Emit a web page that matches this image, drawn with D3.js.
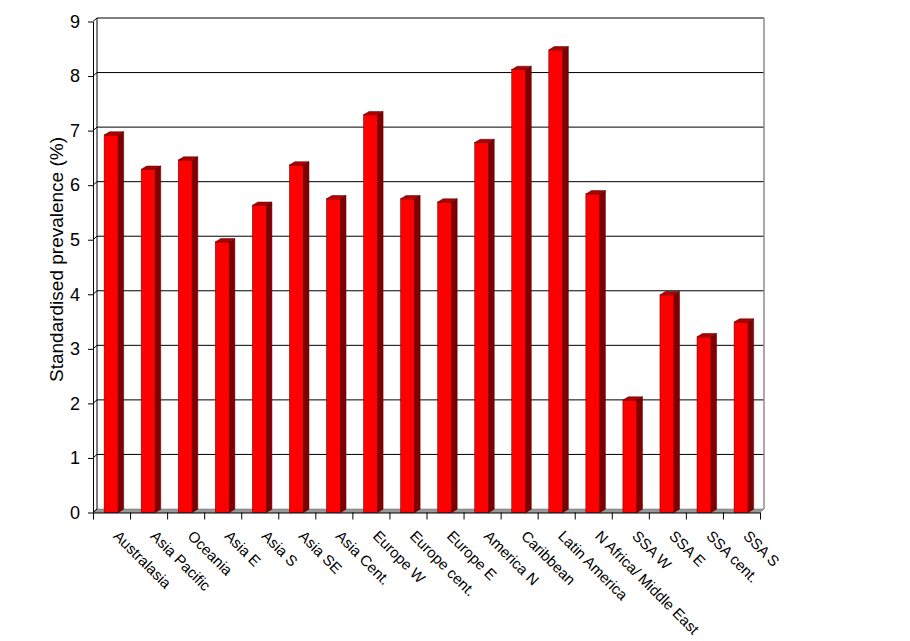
<!DOCTYPE html>
<meta charset="utf-8">
<head>
    <title>Standardised prevalence by region</title>
    <script src="https://d3js.org/d3.v7.min.js"></script>
    <style>
    body { margin: 0; background: #fff; }
    text { font-family: Arial, "Liberation Sans", sans-serif; fill: #000; }
    .domain, .tick line { stroke: #000; }
    </style>
</head>
<body>
<script>

// data
var regions = ["Australasia", "Asia Pacific", "Oceania", "Asia E", "Asia S", "Asia SE",
    "Asia Cent.", "Europe W", "Europe cent.", "Europe E", "America N", "Caribbean",
    "Latin America", "N Africa/ Middle East", "SSA W", "SSA E", "SSA cent.", "SSA S"];
var prevalence = [6.92, 6.29, 6.46, 4.96, 5.63, 6.37, 5.75, 7.29, 5.75, 5.69, 6.78, 8.12,
    8.48, 5.84, 2.06, 3.99, 3.22, 3.49];
var yTicks = [0, 1, 2, 3, 4, 5, 6, 7, 8, 9];

// plot geometry (front plane)
var width = 910, height = 641;
var plotLeft = 93, plotRight = 760, plotBottom = 512.5, plotTop = 21.5;
var dx = 4, dy = -3.5;          // back wall offset
var bdx = 5.5, bdy = -3.3;      // bar depth

var svg = d3.select("body").append("svg")
    .attr("width", width)
    .attr("height", height);

var y = d3.scaleLinear().domain([0, 9]).range([plotBottom, plotTop]);
var x = d3.scaleBand().domain(regions).range([plotLeft, plotRight]).padding(0);
var xEdge = d3.scaleLinear().domain([0, regions.length]).range([plotLeft, plotRight]);

// back wall gridlines
svg.append("g").selectAll("line")
    .data(yTicks.filter(function(d) { return d > 0; }))
  .enter().append("line")
    .attr("x1", plotLeft + dx).attr("x2", plotRight + dx)
    .attr("y1", function(d) { return y(d) + dy; })
    .attr("y2", function(d) { return y(d) + dy; })
    .attr("stroke", "#000").attr("stroke-width", 1);

// back wall left and right edges
svg.append("line")
    .attr("x1", plotLeft + dx).attr("x2", plotLeft + dx)
    .attr("y1", y(9) + dy).attr("y2", y(0) + dy)
    .attr("stroke", "#000");
svg.append("line")
    .attr("x1", plotRight + dx).attr("x2", plotRight + dx)
    .attr("y1", y(9) + dy).attr("y2", y(0) + dy)
    .attr("stroke", "#8c8c8c").attr("stroke-width", 1.5);

// floor
svg.append("polygon")
    .attr("points", [[plotLeft, y(0)], [plotLeft + dx, y(0) + dy], [plotRight + dx, y(0) + dy], [plotRight, y(0)]].join(" "))
    .attr("fill", "#999").attr("stroke", "#666").attr("stroke-width", 0.5);

// connectors from axis ticks to the wall
svg.append("g").selectAll("line")
    .data(yTicks)
  .enter().append("line")
    .attr("x1", plotLeft).attr("x2", plotLeft + dx)
    .attr("y1", function(d) { return y(d); })
    .attr("y2", function(d) { return y(d) + dy; })
    .attr("stroke", "#000");

// bars
var bw = x.bandwidth() * 0.38, bo = x.bandwidth() * 0.3;
var bars = svg.append("g").selectAll("g")
    .data(regions)
  .enter().append("g");

bars.append("rect")
    .attr("x", function(d) { return x(d) + bo; })
    .attr("y", function(d, i) { return y(prevalence[i]); })
    .attr("width", bw)
    .attr("height", function(d, i) { return y(0) - y(prevalence[i]); })
    .attr("fill", "#ff0000").attr("stroke", "#600000").attr("stroke-width", 0.5);

bars.append("polygon")
    .attr("points", function(d, i) {
        var x1 = x(d) + bo + bw, yt = y(prevalence[i]), yb = y(0);
        return [[x1, yt], [x1 + bdx, yt + bdy], [x1 + bdx, yb + bdy], [x1, yb]].join(" ");
    })
    .attr("fill", "#800000").attr("stroke", "#500000").attr("stroke-width", 0.5);

bars.append("polygon")
    .attr("points", function(d, i) {
        var x0 = x(d) + bo, x1 = x0 + bw, yt = y(prevalence[i]);
        return [[x0, yt], [x0 + bdx, yt + bdy], [x1 + bdx, yt + bdy], [x1, yt]].join(" ");
    })
    .attr("fill", "#b00000").attr("stroke", "#500000").attr("stroke-width", 0.5);

// y axis
var yAxis = svg.append("g")
    .attr("transform", "translate(" + plotLeft + ",0)")
    .call(d3.axisLeft(y).tickValues(yTicks).tickSize(5).tickPadding(8).tickSizeOuter(0));
yAxis.selectAll("text").style("font-size", "18px");

// x axis with ticks on the band edges
svg.append("g")
    .attr("transform", "translate(0," + y(0) + ")")
    .call(d3.axisBottom(xEdge).tickValues(d3.range(regions.length + 1))
        .tickFormat("").tickSize(7).tickSizeOuter(0));

// category labels
svg.append("g").selectAll("text")
    .data(regions)
  .enter().append("text")
    .attr("transform", function(d) {
        return "translate(" + (x(d) + x.bandwidth() / 2 + 1) + ",537) rotate(45)";
    })
    .style("font-size", "15px")
    .style("text-anchor", "start")
    .text(function(d) { return d; });

// y axis title
svg.append("text")
    .attr("transform", "translate(63," + 259.5 + ") rotate(-90)")
    .style("text-anchor", "middle")
    .style("font-size", "19px")
    .text("Standardised prevalence (%)");

</script>
</body>
